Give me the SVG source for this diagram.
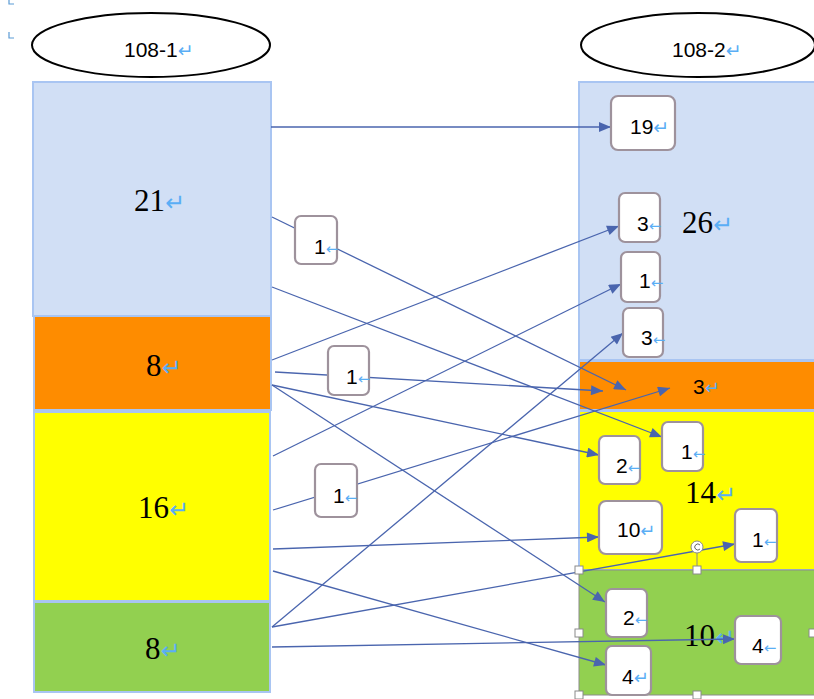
<svg xmlns="http://www.w3.org/2000/svg" width="814" height="699" viewBox="0 0 814 699">
<style>
.lbl{font-family:"Liberation Sans",Arial,sans-serif;font-size:21px;fill:#000}
.big{font-family:"Liberation Serif","Times New Roman",serif;font-size:31px;fill:#000}
.ret{fill:#5AAEF5;font-family:"DejaVu Sans",sans-serif}
.box{fill:#fff;stroke:#9E929C;stroke-width:2.2}
.blk{stroke:#A9C5F2;stroke-width:2}
.cn{stroke:#4A65AE;stroke-width:1.3;fill:none}
.ell{fill:#fff;stroke:#000;stroke-width:2}
.hd{fill:#fff;stroke:#8A8A8A;stroke-width:1}
</style>
<defs>
<marker id="ah" viewBox="0 0 12 10" refX="12" refY="5" markerWidth="13" markerHeight="10" markerUnits="userSpaceOnUse" orient="auto">
<path d="M0,0 L12,5 L0,10 z" fill="#4A65AE"/>
</marker>
</defs>
<rect width="814" height="699" fill="#fff"/>
<path d="M9,0 V4 H14 M9,32 V38 H14" stroke="#5B9BD5" stroke-width="1.2" fill="none"/>

<g id="head1"><ellipse class="ell" cx="151" cy="45" rx="119" ry="32"/><text class="lbl" x="124" y="57">108-1<tspan class="ret" font-size="19">↵</tspan></text></g>
<g id="head2"><ellipse class="ell" cx="698" cy="45" rx="117" ry="32"/><text class="lbl" x="672" y="57">108-2<tspan class="ret" font-size="19">↵</tspan></text></g>

<g id="L-blue"><rect class="blk" x="33" y="82" width="238" height="234" fill="#D1DFF5"/><text class="big" x="134" y="211">21<tspan class="ret" font-size="24">↵</tspan></text></g>
<g id="L-orange"><rect class="blk" x="34" y="316" width="237" height="94" fill="#FE8C00"/><text class="big" x="146" y="376">8<tspan class="ret" font-size="24">↵</tspan></text></g>
<g id="L-yellow"><rect class="blk" x="34" y="412" width="236" height="189" fill="#FFFF00"/><text class="big" x="138" y="518">16<tspan class="ret" font-size="24">↵</tspan></text></g>
<g id="L-green"><rect class="blk" x="34" y="602" width="236" height="90" fill="#92D050"/><text class="big" x="145" y="659">8<tspan class="ret" font-size="24">↵</tspan></text></g>

<g id="R-blue"><rect class="blk" x="579" y="82" width="240" height="278" fill="#D1DFF5"/><text class="big" x="682" y="233">26<tspan class="ret" font-size="24">↵</tspan></text></g>
<g id="R-orange"><rect class="blk" x="579" y="361" width="240" height="49" fill="#FE8C00"/><text class="lbl" x="693" y="394" font-size="19">3<tspan class="ret" font-size="18">↵</tspan></text></g>
<g id="R-yellow"><rect class="blk" x="579" y="411" width="240" height="159" fill="#FFFF00"/><text class="big" x="685" y="503">14<tspan class="ret" font-size="24">↵</tspan></text></g>
<g id="R-green"><rect x="579" y="570" width="240" height="125" fill="#92D050" stroke="#8C8C8C" stroke-width="1"/><text class="big" x="684" y="646">10<tspan class="ret" font-size="24">↵</tspan></text></g>

<g id="connectors">
<line class="cn" x1="271" y1="127" x2="611" y2="127" marker-end="url(#ah)"/>
<line class="cn" x1="272" y1="217" x2="626" y2="390" marker-end="url(#ah)"/>
<line class="cn" x1="272" y1="287" x2="662" y2="437" marker-end="url(#ah)"/>
<line class="cn" x1="272" y1="360" x2="619" y2="226" marker-end="url(#ah)"/>
<line class="cn" x1="275" y1="372" x2="603" y2="391" marker-end="url(#ah)"/>
<line class="cn" x1="272" y1="385" x2="599" y2="455" marker-end="url(#ah)"/>
<line class="cn" x1="272" y1="385" x2="605" y2="602" marker-end="url(#ah)"/>
<line class="cn" x1="273" y1="456" x2="621" y2="284" marker-end="url(#ah)"/>
<line class="cn" x1="273" y1="510" x2="670" y2="388" marker-end="url(#ah)"/>
<line class="cn" x1="273" y1="549" x2="599" y2="537" marker-end="url(#ah)"/>
<line class="cn" x1="273" y1="571" x2="606" y2="665" marker-end="url(#ah)"/>
<line class="cn" x1="272" y1="627" x2="623" y2="333" marker-end="url(#ah)"/>
<line class="cn" x1="272" y1="627" x2="735" y2="544" marker-end="url(#ah)"/>
<line class="cn" x1="272" y1="647" x2="735" y2="639" marker-end="url(#ah)"/>
</g>

<g id="m1"><rect class="box" x="295" y="216" width="42" height="48" rx="6"/><text class="lbl" x="314" y="254" font-size="20">1<tspan class="ret" font-size="15">←</tspan></text></g>
<g id="m2"><rect class="box" x="328" y="346" width="41" height="49" rx="6"/><text class="lbl" x="346" y="384" font-size="20">1<tspan class="ret" font-size="15">←</tspan></text></g>
<g id="m3"><rect class="box" x="315" y="464" width="42" height="53" rx="6"/><text class="lbl" x="333" y="503" font-size="20">1<tspan class="ret" font-size="15">←</tspan></text></g>

<g id="r19"><rect class="box" x="611" y="96" width="64" height="54" rx="7"/><text class="lbl" x="630" y="134">19<tspan class="ret" font-size="19">↵</tspan></text></g>
<g id="r3a"><rect class="box" x="619" y="193" width="41" height="49" rx="6"/><text class="lbl" x="637" y="231" font-size="20">3<tspan class="ret" font-size="15">←</tspan></text></g>
<g id="r1a"><rect class="box" x="621" y="252" width="39" height="50" rx="6"/><text class="lbl" x="639" y="288" font-size="20">1<tspan class="ret" font-size="15">←</tspan></text></g>
<g id="r3b"><rect class="box" x="623" y="308" width="40" height="49" rx="6"/><text class="lbl" x="641" y="345" font-size="20">3<tspan class="ret" font-size="15">←</tspan></text></g>
<g id="r2a"><rect class="box" x="599" y="436" width="41" height="48" rx="6"/><text class="lbl" x="616" y="473" font-size="20">2<tspan class="ret" font-size="15">←</tspan></text></g>
<g id="r1b"><rect class="box" x="662" y="422" width="41" height="49" rx="6"/><text class="lbl" x="681" y="459" font-size="20">1<tspan class="ret" font-size="15">←</tspan></text></g>
<g id="r10"><rect class="box" x="599" y="501" width="63" height="53" rx="7"/><text class="lbl" x="617" y="537" font-size="20">10<tspan class="ret" font-size="18">↵</tspan></text></g>
<g id="r1c"><rect class="box" x="735" y="509" width="42" height="53" rx="6"/><text class="lbl" x="752" y="547" font-size="20">1<tspan class="ret" font-size="15">←</tspan></text></g>
<g id="r2b"><rect class="box" x="606" y="589" width="41" height="48" rx="6"/><text class="lbl" x="623" y="625" font-size="20">2<tspan class="ret" font-size="15">←</tspan></text></g>
<g id="r4a"><rect class="box" x="606" y="646" width="45" height="49" rx="6"/><text class="lbl" x="622" y="684" font-size="20">4<tspan class="ret" font-size="18">↵</tspan></text></g>
<g id="r4b"><rect class="box" x="735" y="616" width="46" height="48" rx="6"/><text class="lbl" x="752" y="653" font-size="20">4<tspan class="ret" font-size="15">←</tspan></text></g>

<g id="selection">
<line x1="697" y1="553" x2="697" y2="570" stroke="#8A8A8A" stroke-width="1"/>
<circle cx="697" cy="547" r="6" class="hd"/>
<path d="M700,545 A3,3 0 1 0 700,549" stroke="#666" stroke-width="1" fill="none"/>
<rect class="hd" x="575" y="566" width="8" height="8"/>
<rect class="hd" x="693" y="566" width="8" height="8"/>
<rect class="hd" x="575" y="629" width="8" height="8"/>
<rect class="hd" x="809" y="629" width="8" height="8"/>
<rect class="hd" x="575" y="691" width="8" height="8"/>
<rect class="hd" x="693" y="691" width="8" height="8"/>
</g>
</svg>
